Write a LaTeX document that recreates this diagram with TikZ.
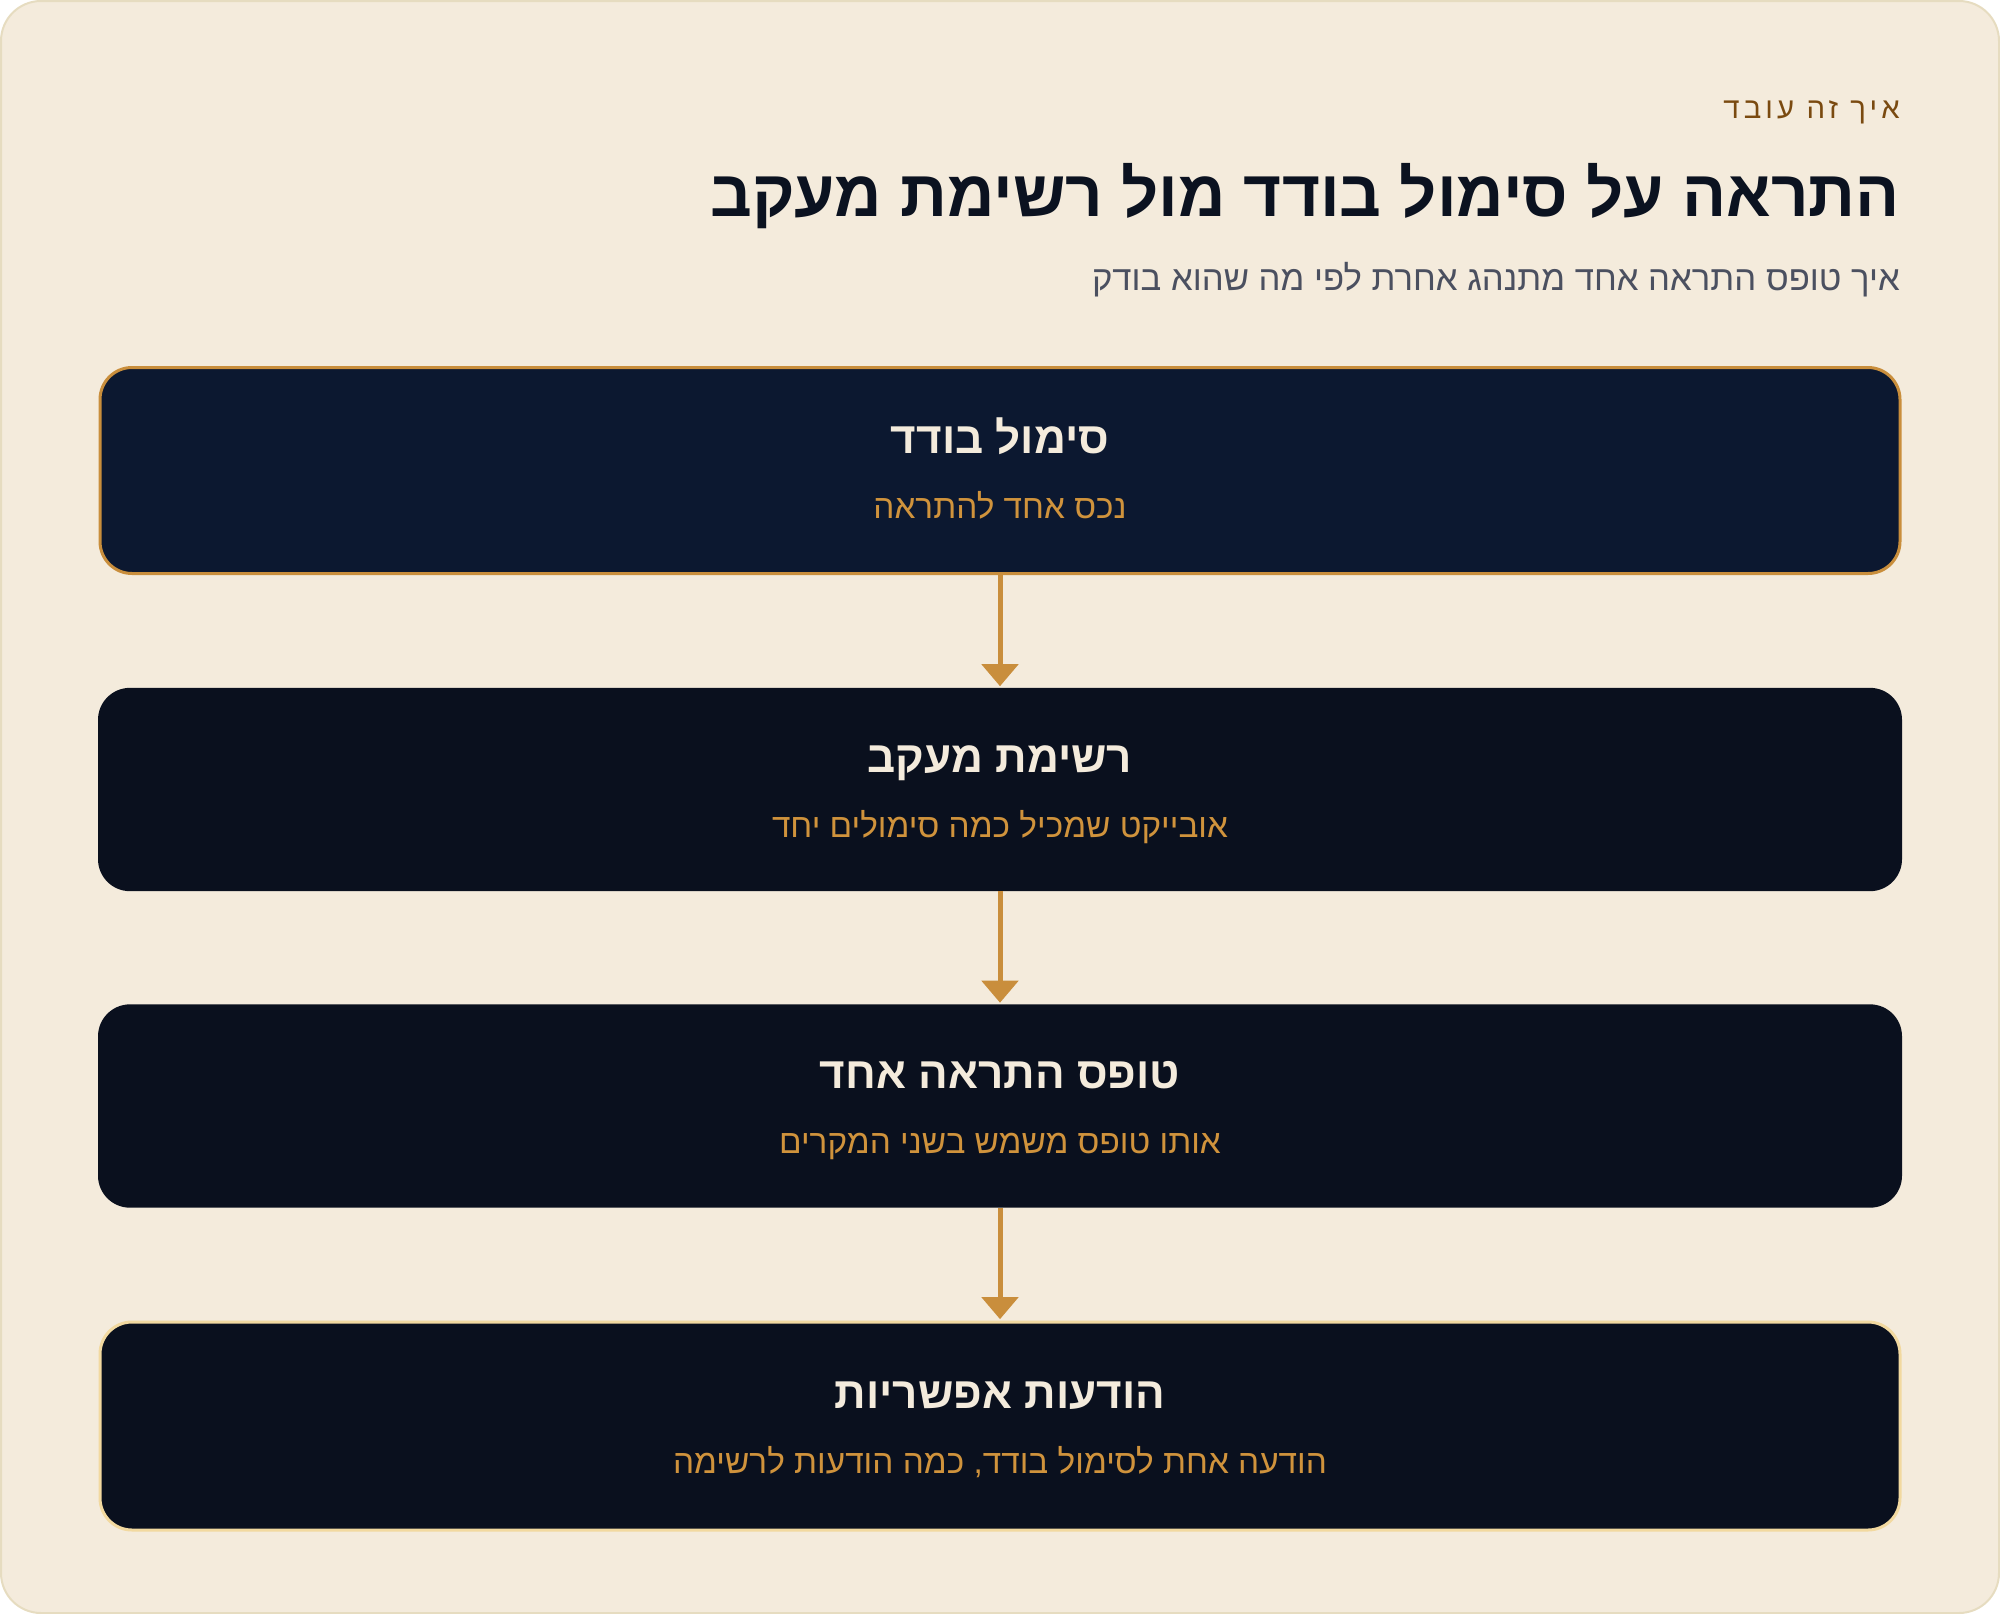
\documentclass[tikz,border=0pt]{standalone}
\usepackage{fontspec}
\usetikzlibrary{arrows.meta}
\TeXXeTstate=1
\newfontfamily\heb[Script=Hebrew]{Liberation Sans}
\definecolor{cardbg}{HTML}{F4EBDC}
\definecolor{cardline}{HTML}{E6DCC0}
\definecolor{navyA}{HTML}{0C1830}
\definecolor{navyB}{HTML}{0A101E}
\definecolor{gold}{HTML}{C98E3C}
\definecolor{paleGold}{HTML}{F2D9A0}
\definecolor{ink}{HTML}{0B1220}
\definecolor{greytext}{HTML}{4B5060}
\definecolor{brown}{HTML}{7A4A10}
\definecolor{cream}{HTML}{F4EBDC}
\definecolor{subgold}{HTML}{D0933C}
\tikzset{
  flowbox/.style={rectangle, rounded corners=24pt, minimum width=1353pt, minimum height=152.5pt, inner sep=0pt, fill=navyB},
  hdrtext/.style={inner sep=0pt, anchor=base east},
  boxtitle/.style={inner sep=0pt, anchor=base, text=cream, font=\heb\bfseries\fontsize{33pt}{40pt}\selectfont},
  boxsub/.style={inner sep=0pt, anchor=base, text=subgold, font=\heb\fontsize{25pt}{30pt}\selectfont},
  flowarrow/.style={draw=gold, line width=3.75pt, -{Triangle[width=27pt,length=16.5pt]}, shorten >=1pt}
}
\begin{document}
\begin{tikzpicture}[x=0.75pt,y=-0.75pt]
\useasboundingbox (0,0) rectangle (2000,1614);
\draw[draw=cardline, fill=cardbg, rounded corners=30pt, line width=1.5pt] (1,1) rectangle (1999,1613);

% header
\node[hdrtext, text=brown, font=\heb\fontsize{22pt}{26pt}\selectfont\addfontfeature{LetterSpace=14}] (kicker) at (1900,118) {\beginR איך זה עובד\endR};
\node[hdrtext, text=ink, font=\heb\bfseries\fontsize{49pt}{58pt}\selectfont] (title) at (1900,216) {\beginR התראה על סימול בודד מול רשימת מעקב\endR};
\node[hdrtext, text=greytext, font=\heb\fontsize{26pt}{31pt}\selectfont] (subtitle) at (1900,290) {\beginR איך טופס התראה אחד מתנהג אחרת לפי מה שהוא בודק\endR};

% boxes
\node[flowbox, fill=navyA, draw=gold, line width=2.25pt, minimum width=1350pt, minimum height=154.5pt] (b1) at (1000,470.5) {};
\node[flowbox] (b2) at (1000,789.5) {};
\node[flowbox] (b3) at (1000,1106) {};
\node[flowbox, draw=paleGold, line width=2.25pt, minimum width=1350pt, minimum height=156pt] (b4) at (1000,1426) {};

\node[boxtitle] (t1) at (1000,453) {\beginR סימול בודד\endR};
\node[boxsub] (s1) at (1000,518) {\beginR נכס אחד להתראה\endR};
\node[boxtitle] (t2) at (1000,772) {\beginR רשימת מעקב\endR};
\node[boxsub] (s2) at (1000,837) {\beginR אובייקט שמכיל כמה סימולים יחד\endR};
\node[boxtitle] (t3) at (1000,1088.5) {\beginR טופס התראה אחד\endR};
\node[boxsub] (s3) at (1000,1153.5) {\beginR אותו טופס משמש בשני המקרים\endR};
\node[boxtitle] (t4) at (1000,1408.5) {\beginR הודעות אפשריות\endR};
\node[boxsub] (s4) at (1000,1473.5) {\beginR הודעה אחת לסימול בודד, כמה הודעות לרשימה\endR};

% arrows
\draw[flowarrow] (b1.south) -- (b2.north);
\draw[flowarrow] (b2.south) -- (b3.north);
\draw[flowarrow] (b3.south) -- (b4.north);
\end{tikzpicture}
\end{document}
